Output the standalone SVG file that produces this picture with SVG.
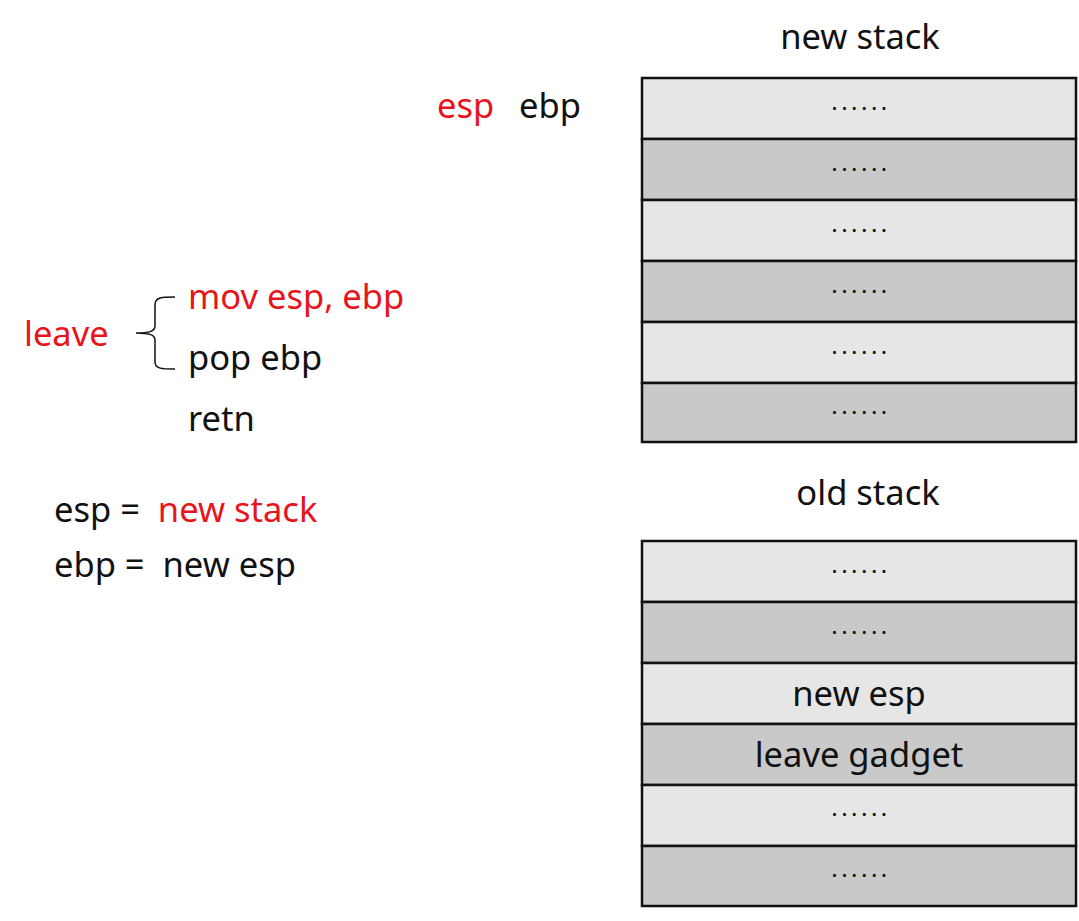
<svg xmlns="http://www.w3.org/2000/svg" width="1079" height="921" viewBox="0 0 1079 921">
<style>
text{font-family:"Noto Sans","Liberation Sans",sans-serif;font-size:34.5px;fill:#111}
.r{fill:#e8141c}
.c{text-anchor:middle}
.l{fill:#e6e6e6;stroke:#111;stroke-width:2.5}
.d{fill:#c9c9c9;stroke:#111;stroke-width:2.5}
.dots{font-size:24px;letter-spacing:3.5px}
</style>
<rect width="1079" height="921" fill="#fff"/>
<text class="c" x="860" y="49">new stack</text>
<text class="r" x="437" y="118">esp</text>
<text x="519" y="118">ebp</text>
<g id="newstack">
<rect class="l" x="642" y="78" width="434" height="61"/>
<rect class="d" x="642" y="139" width="434" height="61"/>
<rect class="l" x="642" y="200" width="434" height="61"/>
<rect class="d" x="642" y="261" width="434" height="61"/>
<rect class="l" x="642" y="322" width="434" height="61"/>
<rect class="d" x="642" y="383" width="434" height="59"/>
<text class="c dots" x="861" y="110">......</text>
<text class="c dots" x="861" y="171">......</text>
<text class="c dots" x="861" y="232">......</text>
<text class="c dots" x="861" y="293">......</text>
<text class="c dots" x="861" y="354">......</text>
<text class="c dots" x="861" y="414">......</text>
</g>
<g id="code">
<text class="r" x="24" y="346">leave</text>
<path d="M175,297 C162,297 155,297 155,305 L155,326 C155,331 150,333 136,333 C150,333 155,335 155,340 L155,362 C155,369 162,369 175,369" fill="none" stroke="#111" stroke-width="1.5"/>
<text class="r" x="188" y="309">mov esp, ebp</text>
<text x="188" y="370">pop ebp</text>
<text x="188" y="431">retn</text>
<text x="54" y="522" xml:space="preserve">esp =  <tspan class="r">new stack</tspan></text>
<text x="54" y="577" xml:space="preserve">ebp =  new esp</text>
</g>
<text class="c" x="868" y="505">old stack</text>
<g id="oldstack">
<rect class="l" x="642" y="541" width="434" height="61"/>
<rect class="d" x="642" y="602" width="434" height="61"/>
<rect class="l" x="642" y="663" width="434" height="61"/>
<rect class="d" x="642" y="724" width="434" height="61"/>
<rect class="l" x="642" y="785" width="434" height="61"/>
<rect class="d" x="642" y="846" width="434" height="60"/>
<text class="c dots" x="861" y="573">......</text>
<text class="c dots" x="861" y="634">......</text>
<text class="c" x="859" y="706">new esp</text>
<text class="c" x="859" y="767">leave gadget</text>
<text class="c dots" x="861" y="816">......</text>
<text class="c dots" x="861" y="877">......</text>
</g>
</svg>
